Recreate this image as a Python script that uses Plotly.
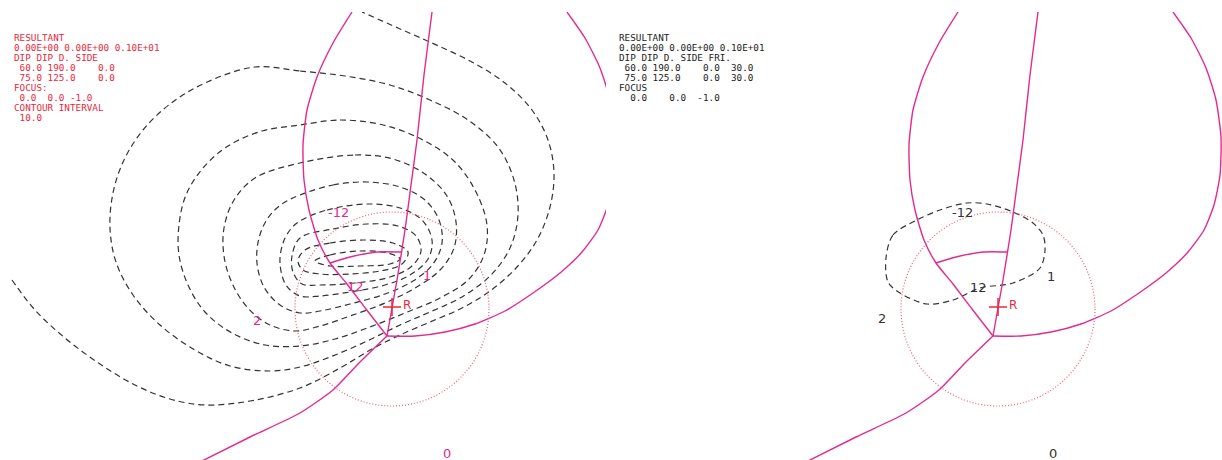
import plotly.graph_objects as go

# ---------------- shared stereonet geometry (panel-local units) ----------------
GC_WEST = [(352, 12), (333, 43), (317, 77), (307, 110), (303, 145), (304, 180), (309, 210),
           (318, 240), (330, 263), (347, 284), (366, 309), (387, 336)]
GC_STRAIGHT = [(432, 12), (424, 75), (417, 140), (411, 185), (405, 230), (397, 280), (387, 336)]
GC_EAST = [(567, 12), (585, 38), (600, 68), (610, 100), (615, 137), (614, 175), (608, 205),
           (598, 230), (582, 252), (560, 273), (533, 293), (505, 311), (475, 324), (445, 332),
           (415, 336), (387, 336)]
GC_SOUTH = [(387, 336), (360, 362), (333, 390), (300, 413), (250, 437), (200, 462)]
GC_SMALL = [(330, 263), (350, 257), (377, 252), (402, 252)]
CIRCLE_CENTER = (392, 309)
CIRCLE_RADIUS = 97
R_POINT = (392, 307)
R_LABEL = (401, 305)
ZERO_LABEL = (447, 453)

# ---------------- left panel contours ----------------
CONTOUR_A = [(12, 280), (35, 310), (65, 338), (100, 364), (135, 385), (170, 399), (205, 405),
             (250, 401), (300, 388), (340, 368), (372, 349), (400, 335), (430, 322), (462, 308),
             (490, 291), (517, 267), (537, 240), (550, 207), (554, 173), (548, 140), (532, 110),
             (505, 83), (470, 61), (432, 43), (398, 28), (362, 12)]
CONTOUR_B = [(255, 67), (300, 71), (345, 76), (390, 85), (430, 100), (468, 120), (498, 147),
             (514, 180), (518, 215), (510, 248), (490, 276), (460, 298), (430, 312), (400, 325),
             (365, 342), (330, 357), (300, 367), (270, 371), (230, 366), (195, 350), (160, 325),
             (133, 295), (116, 262), (110, 228), (113, 193), (124, 160), (143, 130), (170, 104),
             (205, 83), (255, 67)]
CONTOUR_C = [(300, 125), (340, 120), (383, 125), (423, 140), (455, 162), (476, 192), (487, 225),
             (484, 255), (468, 280), (440, 298), (405, 313), (370, 327), (335, 339), (300, 346),
             (265, 345), (232, 333), (205, 312), (188, 285), (179, 255), (179, 225), (186, 195),
             (203, 168), (228, 146), (262, 131), (300, 125)]
CONTOUR_D = [(300, 163), (355, 155), (393, 159), (425, 174), (447, 196), (456, 222), (454, 248),
             (440, 270), (415, 288), (385, 303), (350, 316), (320, 326), (295, 331), (268, 324),
             (247, 307), (232, 283), (224, 256), (224, 228), (234, 200), (255, 178), (300, 163)]
CONTOUR_E = [(300, 195), (333, 185), (367, 182), (400, 187), (425, 200), (439, 220), (442, 243),
             (433, 264), (413, 281), (385, 294), (350, 304), (320, 311), (300, 313), (280, 305),
             (264, 287), (257, 263), (259, 238), (268, 218), (282, 204), (300, 195)]
CONTOUR_F = [(300, 221), (327, 210), (367, 204), (400, 208), (422, 220), (432, 240), (428, 259),
             (410, 275), (385, 285), (350, 292), (320, 296), (300, 296), (286, 285), (280, 263),
             (283, 243), (290, 230), (300, 221)]
CONTOUR_G = [(300, 238), (333, 229), (367, 224), (398, 226), (416, 236), (421, 251), (412, 266),
             (390, 277), (355, 283), (320, 285), (302, 284), (293, 272), (292, 256), (300, 238)]
CONTOUR_H = [(305, 250), (330, 243), (365, 240), (393, 243), (408, 252), (402, 264), (380, 271),
             (350, 274), (320, 274), (303, 270), (298, 261), (305, 250)]
CONTOUR_I = [(315, 261), (330, 255), (360, 251), (388, 253), (400, 259), (390, 264), (360, 266),
             (330, 266), (315, 261)]
LEFT_CONTOURS = [CONTOUR_A, CONTOUR_B, CONTOUR_C, CONTOUR_D, CONTOUR_E,
                 CONTOUR_F, CONTOUR_G, CONTOUR_H, CONTOUR_I]

LEFT_LABELS = ["-12", "12", "1", "2"]
LEFT_LABEL_POS = [(338, 212), (355, 286), (427, 275), (257, 320)]

LEFT_TEXT = ["RESULTANT", "0.00E+00 0.00E+00 0.10E+01", "DIP DIP D. SIDE",
             " 60.0 190.0    0.0", " 75.0 125.0    0.0", "FOCUS:", " 0.0  0.0 -1.0",
             "CONTOUR INTERVAL", " 10.0"]

# ---------------- right panel ----------------
RIGHT_CONTOUR = [(280, 258), (287, 235), (311, 220), (334, 210), (361, 203), (381, 204),
                 (407, 212), (427, 223), (437, 235), (439, 250), (434, 268), (407, 283),
                 (374, 288), (347, 300), (321, 304), (294, 293), (282, 282), (280, 258)]
RIGHT_LABELS = ["-12", "12", "1", "2"]
RIGHT_LABEL_POS = [(356, 212), (372, 287), (445, 276), (276, 318)]
RIGHT_TEXT = ["RESULTANT", "0.00E+00 0.00E+00 0.10E+01", "DIP DIP D. SIDE FRI.",
              " 60.0 190.0    0.0  30.0", " 75.0 125.0    0.0  30.0", "FOCUS",
              "  0.0    0.0  -1.0"]

MAGENTA = "#e42a8c"
RED = "#e8283c"
DOT_RED = "#f45a6c"
DARK = "#333333"

W, H = 1222, 460
LEFT_W, RIGHT_X0 = 620, 606

fig = go.Figure()


def xy(pts):
    return [p[0] for p in pts], [p[1] for p in pts]


def add_line(pts, axis, color, width=1.4, dash="solid", smoothing=0.8):
    x, y = xy(pts)
    fig.add_trace(go.Scatter(x=x, y=y, mode="lines", xaxis=axis, yaxis="y",
                             line=dict(color=color, width=width, dash=dash,
                                       shape="spline", smoothing=smoothing),
                             hoverinfo="skip"))


for axis, lab_color in (("x", MAGENTA), ("x2", DARK)):
    if axis == "x":
        for c in LEFT_CONTOURS:
            add_line(c, axis, DARK, 1.2, "6px,4px", 1.0)
    else:
        add_line(RIGHT_CONTOUR, axis, DARK, 1.2, "6px,4px", 0.9)
    for g in (GC_WEST, GC_STRAIGHT, GC_EAST, GC_SOUTH, GC_SMALL):
        add_line(g, axis, MAGENTA, 1.4, "solid", 0.6)
    xref = axis
    fig.add_shape(type="circle", xref=xref, yref="y",
                  x0=CIRCLE_CENTER[0] - CIRCLE_RADIUS, x1=CIRCLE_CENTER[0] + CIRCLE_RADIUS,
                  y0=CIRCLE_CENTER[1] - CIRCLE_RADIUS, y1=CIRCLE_CENTER[1] + CIRCLE_RADIUS,
                  line=dict(color=DOT_RED, width=1.2, dash="1px,2px"))
    fig.add_trace(go.Scatter(x=[R_POINT[0]], y=[R_POINT[1]], mode="markers", xaxis=axis,
                             yaxis="y", hoverinfo="skip",
                             marker=dict(symbol="cross-thin", size=13,
                                         line=dict(color=RED, width=1.5))))
    fig.add_annotation(x=R_LABEL[0], y=R_LABEL[1], xref=xref, yref="y", text="R",
                       showarrow=False, xanchor="left", yanchor="middle",
                       font=dict(family="DejaVu Sans", size=12, color=RED))
    fig.add_annotation(x=ZERO_LABEL[0], y=ZERO_LABEL[1], xref=xref, yref="y", text="0",
                       showarrow=False, xanchor="center", yanchor="middle",
                       font=dict(family="DejaVu Sans", size=13, color=lab_color))
    labels = LEFT_LABELS if axis == "x" else RIGHT_LABELS
    pos = LEFT_LABEL_POS if axis == "x" else RIGHT_LABEL_POS
    for t, (px, py) in zip(labels, pos):
        fig.add_annotation(x=px, y=py, xref=xref, yref="y", text=t, showarrow=False,
                           xanchor="center", yanchor="middle",
                           font=dict(family="DejaVu Sans", size=13, color=lab_color))
    lines = LEFT_TEXT if axis == "x" else RIGHT_TEXT
    tcolor = RED if axis == "x" else "#222222"
    tx = 12 if axis == "x" else 11
    for i, t in enumerate(lines):
        fig.add_annotation(x=tx, y=37 + 10 * i, xref=xref, yref="y",
                           text=t.replace(" ", "\u00a0"), showarrow=False,
                           xanchor="left", yanchor="middle",
                           font=dict(family="DejaVu Sans Mono", size=9.3, color=tcolor))

fig.update_layout(
    width=W, height=H, margin=dict(l=0, r=0, t=12, b=0),
    paper_bgcolor="white", plot_bgcolor="white", showlegend=False,
    xaxis=dict(domain=[0, LEFT_W / W], range=[0, LEFT_W], visible=False, fixedrange=True),
    xaxis2=dict(domain=[RIGHT_X0 / W, 1], range=[0, W - RIGHT_X0], visible=False,
                anchor="y", fixedrange=True),
    yaxis=dict(domain=[0, 1], range=[H, 12], visible=False, fixedrange=True),
)

fig.write_html("out.html")
